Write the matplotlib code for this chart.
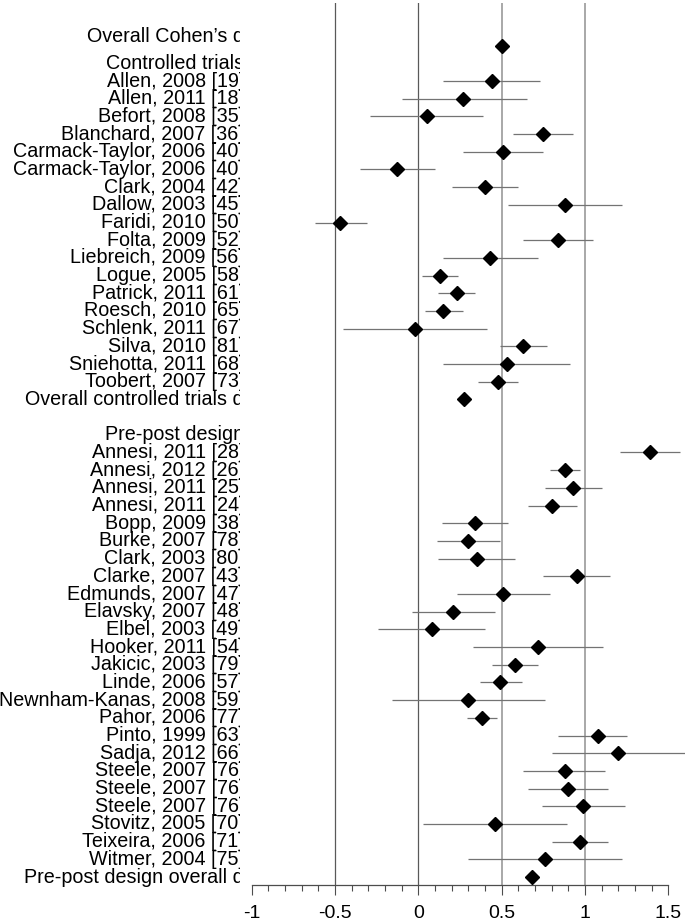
import numpy as np
import matplotlib
matplotlib.use('Agg')
import matplotlib.pyplot as plt
from matplotlib.ticker import FixedLocator

#==============================================================================
#DATA
#==============================================================================

ctrl_names = ['Allen, 2008 [19]', 'Allen, 2011 [18]', 'Befort, 2008 [35]',
              'Blanchard, 2007 [36]', 'Carmack-Taylor, 2006 [40]',
              'Carmack-Taylor, 2006 [40]', 'Clark, 2004 [42]', 'Dallow, 2003 [45]',
              'Faridi, 2010 [50]', 'Folta, 2009 [52]', 'Liebreich, 2009 [56]',
              'Logue, 2005 [58]', 'Patrick, 2011 [61]', 'Roesch, 2010 [65]',
              'Schlenk, 2011 [67]', 'Silva, 2010 [81]', 'Sniehotta, 2011 [68]',
              'Toobert, 2007 [73]']
ctrl_d  = [0.44, 0.27, 0.05, 0.75, 0.51, -0.13, 0.40, 0.88, -0.47, 0.84, 0.43,
           0.13, 0.23, 0.15, -0.02, 0.63, 0.53, 0.48]
ctrl_lo = [0.15, -0.10, -0.29, 0.57, 0.27, -0.35, 0.20, 0.54, -0.62, 0.63, 0.15,
           0.02, 0.12, 0.04, -0.45, 0.49, 0.15, 0.36]
ctrl_hi = [0.73, 0.65, 0.39, 0.93, 0.75, 0.10, 0.60, 1.22, -0.31, 1.05, 0.72,
           0.24, 0.34, 0.27, 0.41, 0.77, 0.91, 0.60]

pp_names = ['Annesi, 2011 [28]', 'Annesi, 2012 [26]', 'Annesi, 2011 [25]',
            'Annesi, 2011 [24]', 'Bopp, 2009 [38]', 'Burke, 2007 [78]',
            'Clark, 2003 [80]', 'Clarke, 2007 [43]', 'Edmunds, 2007 [47]',
            'Elavsky, 2007 [48]', 'Elbel, 2003 [49]', 'Hooker, 2011 [54]',
            'Jakicic, 2003 [79]', 'Linde, 2006 [57]', 'Newnham-Kanas, 2008 [59]',
            'Pahor, 2006 [77]', 'Pinto, 1999 [63]', 'Sadja, 2012 [66]',
            'Steele, 2007 [76]', 'Steele, 2007 [76]', 'Steele, 2007 [76]',
            'Stovitz, 2005 [70]', 'Teixeira, 2006 [71]', 'Witmer, 2004 [75]']
pp_d  = [1.39, 0.88, 0.93, 0.80, 0.34, 0.30, 0.35, 0.95, 0.51, 0.21, 0.08, 0.72,
         0.58, 0.49, 0.30, 0.38, 1.08, 1.20, 0.88, 0.90, 0.99, 0.46, 0.97, 0.76]
pp_lo = [1.21, 0.79, 0.76, 0.66, 0.14, 0.11, 0.12, 0.75, 0.23, -0.04, -0.24, 0.33,
         0.44, 0.37, -0.16, 0.29, 0.84, 0.80, 0.63, 0.66, 0.74, 0.03, 0.80, 0.30]
pp_hi = [1.57, 0.97, 1.10, 0.95, 0.54, 0.49, 0.58, 1.15, 0.79, 0.46, 0.40, 1.11,
         0.72, 0.62, 0.76, 0.47, 1.25, 1.62, 1.12, 1.14, 1.24, 0.89, 1.14, 1.22]

overall_d, overall_lo, overall_hi = 0.50, 0.48, 0.52
ctrl_all_d, ctrl_all_lo, ctrl_all_hi = 0.274, 0.236, 0.312
pp_all_d, pp_all_lo, pp_all_hi = 0.68, 0.66, 0.70

xticks = [-1, -0.5, 0, 0.5, 1, 1.5]
xticklabels = ['-1', '-0.5', '0', '0.5', '1', '1.5']
vlines = [-0.5, 0, 0.5, 1]

#==============================================================================
#ROWS
#==============================================================================

n_c = len(ctrl_names)
n_p = len(pp_names)
y_ctrl = np.arange(n_c)
y_ctrl_all = n_c
y_pp_head = n_c + 2
y_pp = np.arange(n_p) + n_c + 3
y_pp_all = n_c + 3 + n_p

#==============================================================================
#PLOT
#==============================================================================

plt.rcParams['font.family'] = ['Liberation Sans', 'DejaVu Sans']
fs = 14.2

W, H = 685., 922.
x0_px, unit_px = 418.3, 166.7
row0_px, row_px = 81., 17.69
top_px, bot_px = 3., 885.
lab_top, lab_bot = 0., 905.

ylim = ((bot_px - row0_px) / row_px, (top_px - row0_px) / row_px)
ylim_lab = ((lab_bot - row0_px) / row_px, (lab_top - row0_px) / row_px)
xl = (251.6 - x0_px) / unit_px
xr = (W - x0_px) / unit_px

f = plt.figure(figsize=(W / 100, H / 100), dpi=100)
ax = f.add_axes([251.6 / W, 1 - bot_px / H, 1 - 251.6 / W, (bot_px - top_px) / H])
axl = f.add_axes([0, 1 - lab_bot / H, 240 / W, (lab_bot - lab_top) / H])

for v in vlines:
    c = '0.35' if v <= 0 else '0.6'
    ax.axvline(v, color=c, lw=0.9 if v <= 0 else 1.2, zorder=1)

ys = list(y_ctrl) + [y_ctrl_all] + list(y_pp) + [y_pp_all, -2]
ds = ctrl_d + [ctrl_all_d] + pp_d + [pp_all_d, overall_d]
los = ctrl_lo + [ctrl_all_lo] + pp_lo + [pp_all_lo, overall_lo]
his = ctrl_hi + [ctrl_all_hi] + pp_hi + [pp_all_hi, overall_hi]

ax.hlines(ys, los, his, color='0.45', lw=0.9, zorder=2)
ax.plot(ds, ys, 'D', color='black', ms=7, zorder=3)

ax.set_xlim(xl, xr)
ax.set_ylim(*ylim)
ax.set_yticks([])
for s in ['top', 'left', 'right']:
    ax.spines[s].set_visible(False)
ax.spines['bottom'].set_bounds(-1, 1.5)
ax.spines['bottom'].set_color('0.3')
ax.spines['bottom'].set_linewidth(0.9)
ax.set_xticks(xticks)
ax.set_xticklabels(xticklabels, fontsize=14)
ax.xaxis.set_minor_locator(FixedLocator(np.round(np.arange(-1, 1.501, 0.1), 2)))
ax.tick_params(axis='x', which='major', length=7.5, width=0.8, color='0.3', pad=7)
ax.tick_params(axis='x', which='minor', length=4.5, width=0.8, color='0.3')

#labels
axl.set_xlim(0, 240)
axl.set_ylim(*ylim_lab)
axl.axis('off')

labels = [('Overall Cohen\u2019s d', -2.5), ('Controlled trials', -1)]
labels += list(zip(ctrl_names, y_ctrl))
labels += [('Overall controlled trials d', y_ctrl_all), ('Pre-post design', y_pp_head)]
labels += list(zip(pp_names, y_pp))
labels += [('Pre-post design overall d', y_pp_all)]
for name, y in labels:
    axl.text(244, y, name, ha='right', va='center', fontsize=fs, clip_on=True)

f.savefig('out.png', dpi=100)
